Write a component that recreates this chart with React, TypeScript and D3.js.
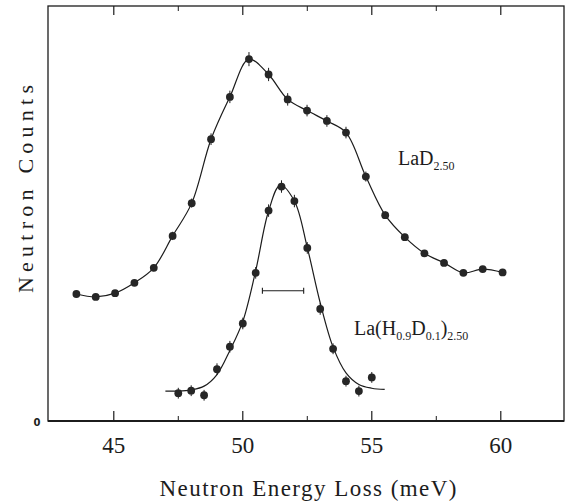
import React from "react";
import * as d3 from "d3";

// ---- data ----
const laDEnergy = [43.55, 44.3, 45.05, 45.8, 46.55, 47.28, 48.02, 48.77, 49.5, 50.24, 51.0, 51.74, 52.49, 53.26, 54.0, 54.77, 55.52, 56.28, 57.04, 57.8, 58.55, 59.3, 60.07];
const laDCounts = [306, 299, 308, 333, 369, 446, 525, 679, 781, 872, 835, 775, 748, 723, 695, 589, 496, 443, 404, 381, 357, 366, 358];
const laDErr = [7, 7, 7, 7, 8, 10, 11, 14, 15, 17, 16, 15, 14, 14, 14, 12, 9, 8, 7, 7, 7, 7, 7];

const mixEnergy = [47.5, 48.0, 48.5, 49.0, 49.5, 50.0, 50.5, 51.0, 51.5, 52.0, 52.5, 53.0, 53.5, 54.0, 54.5, 55.0];
const mixCounts = [67, 73, 62, 125, 179, 235, 357, 507, 565, 530, 417, 270, 174, 96, 72, 105];
const mixErr = [13, 13, 13, 14, 14, 14, 14, 15, 15, 15, 14, 14, 13, 13, 13, 13];

const fitEnergy = [47.0, 47.5, 48.0, 48.5, 49.0, 49.5, 50.0, 50.5, 51.0, 51.45, 52.0, 52.5, 53.0, 53.5, 54.0, 54.5, 55.0, 55.5];
const fitCounts = [72, 72, 75, 84, 112, 170, 240, 362, 506, 568, 530, 418, 285, 178, 116, 88, 79, 76];

const resolutionBar = [50.76, 52.36];
const resolutionLevel = 314;

const majorTicks = [45, 50, 55, 60];
const minorTicks = [47.5, 52.5, 57.5];
const tickLabels = ["45", "50", "55", "60"];

const W = 573;
const H = 504;
const left = 48;
const right = 564;
const top = 6;
const bottom = 421;
const ink = "#1c1c1c";
const serif = "'Liberation Serif', 'Times New Roman', serif";

export default function App() {
  const x = d3.scaleLinear().domain([42.45, 62.45]).range([left, right]);
  const y = d3.scaleLinear().domain([0, 1000]).range([bottom, top]);

  const laD = laDEnergy.map((e, i) => ({ e, c: laDCounts[i], s: laDErr[i] }));
  const mix = mixEnergy.map((e, i) => ({ e, c: mixCounts[i], s: mixErr[i] }));
  const fit = fitEnergy.map((e, i) => ({ e, c: fitCounts[i] }));

  const line = d3
    .line<{ e: number; c: number }>()
    .x((d) => x(d.e))
    .y((d) => y(d.c))
    .curve(d3.curveCatmullRom.alpha(0.5));

  const points = (data: { e: number; c: number; s: number }[], key: string) =>
    data.map((d, i) => (
      <g key={key + i}>
        <line x1={x(d.e)} x2={x(d.e)} y1={y(d.c - d.s)} y2={y(d.c + d.s)} stroke={ink} strokeWidth={1} />
        <circle cx={x(d.e)} cy={y(d.c)} r={3.9} fill="#262626" />
      </g>
    ));

  return (
    <svg width={W} height={H} style={{ position: "absolute", left: 0, top: 0, background: "#fff" }}>
      <rect x={0} y={0} width={W} height={H} fill="#fff" />
      {/* frame */}
      <rect x={left} y={top} width={right - left} height={bottom - top} fill="none" stroke={ink} strokeWidth={1.3} />
      <line x1={left} x2={right} y1={bottom} y2={bottom} stroke={ink} strokeWidth={1.8} />
      {/* ticks */}
      {majorTicks.map((t) => (
        <g key={"mt" + t}>
          <line x1={x(t)} x2={x(t)} y1={bottom} y2={bottom - 10} stroke={ink} strokeWidth={1.2} />
          <line x1={x(t)} x2={x(t)} y1={top} y2={top + 9} stroke={ink} strokeWidth={1.2} />
        </g>
      ))}
      {minorTicks.map((t) => (
        <g key={"nt" + t}>
          <line x1={x(t)} x2={x(t)} y1={bottom} y2={bottom - 5} stroke={ink} strokeWidth={1} />
          <line x1={x(t)} x2={x(t)} y1={top} y2={top + 5} stroke={ink} strokeWidth={1} />
        </g>
      ))}
      {majorTicks.map((t, i) => (
        <text key={"tl" + t} x={x(t)} y={453} textAnchor="middle" fontFamily={serif} fontSize={23} fill={ink}>
          {tickLabels[i]}
        </text>
      ))}
      <text x={37} y={426} textAnchor="middle" fontFamily="'DejaVu Sans', sans-serif" fontWeight="bold" fontSize={10} fill={ink}>
        0
      </text>
      {/* axis titles */}
      <text x={308} y={496} textAnchor="middle" fontFamily={serif} fontSize={23} fill={ink} textLength={297} lengthAdjust="spacing">
        Neutron Energy Loss (meV)
      </text>
      <text
        transform={`translate(33,189) rotate(-90)`}
        textAnchor="middle"
        fontFamily={serif}
        fontSize={22}
        fill={ink}
        textLength={208}
        lengthAdjust="spacing"
      >
        Neutron Counts
      </text>
      {/* curves */}
      <path d={line(laD) || ""} fill="none" stroke={ink} strokeWidth={1.2} />
      <path d={line(fit) || ""} fill="none" stroke={ink} strokeWidth={1.2} />
      {points(laD, "a")}
      {points(mix, "b")}
      {/* resolution bar */}
      <g stroke={ink} strokeWidth={1.1}>
        <line x1={x(resolutionBar[0])} x2={x(resolutionBar[1])} y1={y(resolutionLevel)} y2={y(resolutionLevel)} />
        <line x1={x(resolutionBar[0])} x2={x(resolutionBar[0])} y1={y(resolutionLevel) - 3} y2={y(resolutionLevel) + 3} />
        <line x1={x(resolutionBar[1])} x2={x(resolutionBar[1])} y1={y(resolutionLevel) - 3} y2={y(resolutionLevel) + 3} />
      </g>
      {/* labels */}
      <text x={398} y={165} fontFamily={serif} fontSize={20} fill={ink}>
        <tspan>LaD</tspan>
        <tspan fontSize={12} dy={5}>2.50</tspan>
      </text>
      <text x={354} y={335} fontFamily={serif} fontSize={20} fill={ink}>
        <tspan>La(H</tspan>
        <tspan fontSize={12} dy={5}>0.9</tspan>
        <tspan dy={-5}>D</tspan>
        <tspan fontSize={12} dy={5}>0.1</tspan>
        <tspan dy={-5}>)</tspan>
        <tspan fontSize={12} dy={5}>2.50</tspan>
      </text>
    </svg>
  );
}
